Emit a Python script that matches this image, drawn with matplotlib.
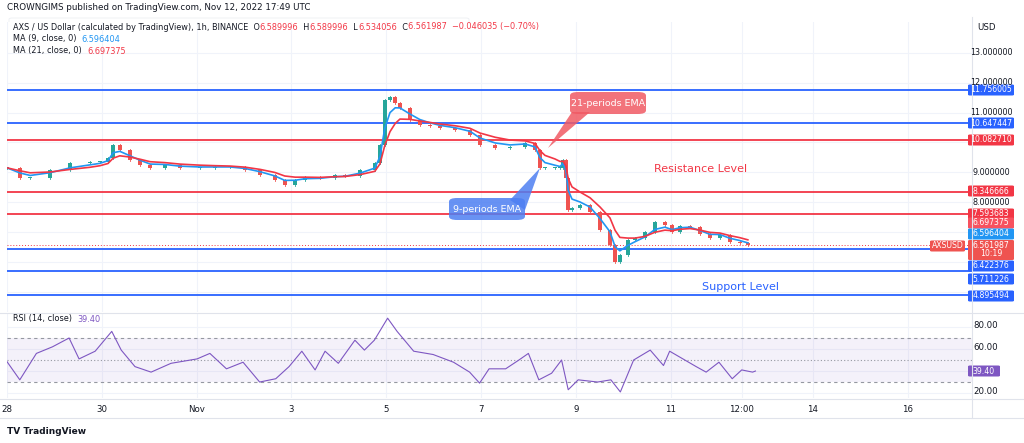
import matplotlib
matplotlib.use("Agg")
import matplotlib.pyplot as plt
import numpy as np
import pandas as pd
from matplotlib.patches import FancyBboxPatch, Polygon

# ---- data (days since Oct 28 00:00) ----
price_days = [0,.27,.49,.91,1.33,1.75,1.96,2.13,2.24,2.38,2.59,2.81,3.02,3.33,3.65,4.07,4.39,4.70,5.02,5.34,5.65,5.86,6.08,6.29,6.60,6.92,7.13,7.45,7.76,7.87,7.97,8.08,8.19,8.29,8.50,8.71,8.92,9.14,9.45,9.77,9.98,10.30,10.61,10.93,11.14,11.24,11.35,11.56,11.67,11.73,11.79,11.84,11.92,12.09,12.30,12.51,12.72,12.83,12.93,13.10,13.25,13.46,13.67,13.88,14.03,14.20,14.41,14.62,14.83,15.04,15.25,15.46,15.63]
price_close = [9.15,8.81,8.81,9.08,9.31,9.35,9.35,9.48,9.92,9.75,9.41,9.25,9.15,9.25,9.15,9.15,9.18,9.18,9.08,8.91,8.74,8.58,8.74,8.84,8.81,8.91,8.88,9.08,9.31,9.92,11.42,11.52,11.32,11.15,10.75,10.58,10.55,10.48,10.42,10.25,9.92,9.82,9.85,9.98,9.75,9.15,9.15,9.15,9.15,9.41,8.81,7.74,7.81,7.91,7.67,7.07,6.57,6.00,6.24,6.74,6.80,7.00,7.34,7.24,7.00,7.21,7.18,6.94,6.80,6.91,6.67,6.64,6.56]
rsi_days = [0.0,0.27,0.62,0.96,1.31,1.52,1.86,2.21,2.41,2.70,3.04,3.46,4.01,4.28,4.63,4.98,5.33,5.67,5.95,6.22,6.50,6.71,6.99,7.34,7.54,7.75,8.03,8.23,8.58,8.99,9.42,9.76,9.97,10.17,10.52,10.80,11.00,11.22,11.49,11.70,11.84,12.05,12.46,12.74,12.94,13.22,13.57,13.85,13.98,14.26,14.54,14.75,15.02,15.30,15.50,15.73,15.79]
rsi_vals = [48.5,32,56,62,70,51,58,76,59,44,39,47,51,56,42,48,30,33,44,58,41,58,47,68,59,68,88,76,58,55,48,39,29,42,42,50,56,32,38,50,23,32,30,32,21,50,59,45,58,51,44,39,48,33,41,39,40]
levels = [11.756005,10.647447,10.082710,8.346666,7.593683,6.422376,5.711226,4.895494]
level_kind = ["s","s","r","r","r","s","s","s"]
last_price = 6.561987
ma9_last, ma21_last = 6.596404, 6.697375
rsi_last = 39.40
date_days = [0,2,4,6,8,10,12,14,15.5,17,19]
date_labels = ["28","30","Nov","3","5","7","9","11","12:00","14","16"]
price_ticks = [13,12,11,9,8]

BLUE = "#2962ff"; RED = "#f23645"; LBLUE = "#2196f3"; ORANGE = "#f7525f"; PURP = "#7e57c2"; INK = "#131722"
W, H = 1024, 443
fig = plt.figure(figsize=(W/100, H/100), dpi=100)
fig.patch.set_facecolor("white")
def fx(x): return x / W
def fy(y): return 1 - y / H
renderer = fig.canvas.get_renderer()

axL, axR = 7, 972
ax = fig.add_axes([fx(axL), fy(312), fx(axR - axL), fy(22) - fy(312)])
ar = fig.add_axes([fx(axL), fy(398), fx(axR - axL), fy(313) - fy(398)], sharex=ax)
xmax = (axR - axL) / 47.4
for a in (ax, ar):
    a.set_xlim(-0.0, xmax)
    for s in a.spines.values(): s.set_visible(False)
    a.tick_params(left=False, bottom=False, labelleft=False, labelbottom=False)
    for d in date_days:
        a.axvline(d, color="#f0f3fa", lw=0.8, zorder=0)
ax.set_ylim(4.326, 14.03)
ar.set_ylim(15.5, 92.7)
for p in [5,6,7,8,9,10,11,12,13]:
    ax.axhline(p, color="#f0f3fa", lw=0.8, zorder=0)
for p in [20,40,60,80]:
    ar.axhline(p, color="#f0f3fa", lw=0.8, zorder=0)

# candles
c = np.array(price_close); d = np.array(price_days)
o = np.r_[c[0], c[:-1]]
for xi, oi, ci in zip(d, o, c):
    col = "#26a69a" if ci >= oi else "#ef5350"
    hi = max(oi, ci) + 0.04; lo = min(oi, ci) - 0.04
    ax.plot([xi, xi], [lo, hi], color=col, lw=0.6, zorder=3)
    ax.bar(xi, max(abs(ci - oi), 0.02), bottom=min(oi, ci), width=0.08, color=col, zorder=3)
s = pd.Series(c)
ax.plot(d, s.ewm(span=3, adjust=False).mean(), color=LBLUE, lw=1.2, zorder=4)
ax.plot(d, s.ewm(span=6, adjust=False).mean(), color=RED, lw=1.2, zorder=4)

for lv, k in zip(levels, level_kind):
    ax.axhline(lv, color=BLUE if k == "s" else RED, lw=1.3, zorder=2)
ax.axhline(last_price, color=RED, lw=0.7, ls=(0, (1, 2)), zorder=2)

# RSI
ar.axhspan(30, 70, color=PURP, alpha=0.08, lw=0)
for v, ls in [(70, (0, (3, 3))), (50, (0, (1, 2))), (30, (0, (3, 3)))]:
    ar.axhline(v, color="#9598a1", lw=0.8, ls=ls)
ar.plot(rsi_days, rsi_vals, color=PURP, lw=0.8)

# separators
fig.add_artist(plt.Line2D([fx(axR), fx(axR)], [fy(17), fy(418)], color="#e0e3eb", lw=0.8))
fig.add_artist(plt.Line2D([fx(0), fx(W)], [fy(312.5), fy(312.5)], color="#e0e3eb", lw=0.8))
fig.add_artist(plt.Line2D([fx(0), fx(W)], [fy(398.5), fy(398.5)], color="#e0e3eb", lw=0.8))
fig.add_artist(plt.Line2D([fx(0), fx(W)], [fy(418), fy(418)], color="#e0e3eb", lw=0.8))

fs = 6.2
for dd, lab in zip(date_days, date_labels):
    px = axL + dd * 47.4
    fig.text(fx(px), fy(409), lab, ha="center", va="center", fontsize=fs, color=INK)

to_py = lambda p: 90 + (11.756005 - p) * 29.88
for p in price_ticks:
    fig.text(fx(991), fy(to_py(p)), f"{p:.6f}", ha="center", va="center", fontsize=5.8, color=INK)
fig.text(fx(986), fy(27), "USD", ha="center", va="center", fontsize=fs, color=INK)

def tag(y, txt, col, h=11, x0=968, w=46, f=5.6):
    fig.add_artist(FancyBboxPatch((fx(x0), fy(y + h/2)), fx(w), fy(0) - fy(h), boxstyle="round,pad=0,rounding_size=0.002",
                                  transform=fig.transFigure, fc=col, ec="none"))
    if txt:
        fig.text(fx(x0 + w/2), fy(y), txt, ha="center", va="center", fontsize=f, color="white")

tag_ys = [90, 123, 140, 191, 214, 223, 234]
tag_vals = [11.756005, 10.647447, 10.082710, 8.346666, 7.593683, ma21_last, ma9_last]
tag_cols = [BLUE, BLUE, RED, RED, RED, ORANGE, LBLUE]
for y, v, cl in zip(tag_ys, tag_vals, tag_cols):
    tag(y, f"{v:.6f}", cl)
tag(250, "", "#ef5350", h=20)
fig.text(fx(991), fy(245), f"{last_price:.6f}", ha="center", va="center", fontsize=5.6, color="white")
fig.text(fx(991), fy(254), "10:19", ha="center", va="center", fontsize=5.6, color="white")
tag(266, f"{levels[5]:.6f}", BLUE)
tag(279, f"{levels[6]:.6f}", BLUE)
tag(296, f"{levels[7]:.6f}", BLUE)
tag(246, "AXSUSD", "#ef5350", x0=930, w=35, f=5.6)
tag(371, f"{rsi_last:.2f}", PURP, x0=968, w=32)
for p in [80, 60, 20]:
    fig.text(fx(986), fy(326 + (80 - p) * 1.1), f"{p:.2f}", ha="center", va="center", fontsize=fs, color=INK)

def chain(x, y, parts, f=fs):
    for txt, col in parts:
        t = fig.text(fx(x), fy(y), txt, fontsize=f, va="center", color=col)
        x += t.get_window_extent(renderer).width
    return x

fig.text(fx(7), fy(8), "CROWNGIMS published on TradingView.com, Nov 12, 2022 17:49 UTC", fontsize=6.3, va="center", color=INK)
fig.add_artist(FancyBboxPatch((fx(9), fy(58)), fx(460), fy(0) - fy(40), boxstyle="round,pad=0,rounding_size=0.003",
                              transform=fig.transFigure, fc="white", ec="#eceff3", lw=0.6, zorder=0))
chain(13, 27, [("AXS / US Dollar (calculated by TradingView), 1h, BINANCE  O", INK), ("6.589996", RED),
               ("  H", INK), ("6.589996", RED), ("  L", INK), ("6.534056", RED), ("  C", INK),
               ("6.561987  \u22120.046035 (\u22120.70%)", RED)], f=5.9)
chain(13, 39, [("MA (9, close, 0)  ", INK), (f"{ma9_last:.6f}", LBLUE)], f=5.9)
chain(13, 51, [("MA (21, close, 0)  ", INK), (f"{ma21_last:.6f}", RED)], f=5.9)
chain(13, 319, [("RSI (14, close)  ", INK), (f"{rsi_last:.2f}", PURP)], f=5.9)
fig.text(fx(7), fy(432), "TV TradingView", fontsize=6.5, va="center", color=INK, fontweight="bold")

def callout(cx, cy, w, h, txt, col, tip, base):
    fig.add_artist(Polygon([(fx(base[0]), fy(base[1])), (fx(base[2]), fy(base[3])), (fx(tip[0]), fy(tip[1]))],
                           closed=True, transform=fig.transFigure, fc=col, ec="none", alpha=0.85))
    fig.add_artist(FancyBboxPatch((fx(cx - w/2), fy(cy + h/2)), fx(w), fy(0) - fy(h),
                                  boxstyle="round,pad=0,rounding_size=0.008", transform=fig.transFigure,
                                  fc=col, ec="none", alpha=0.85))
    fig.text(fx(cx), fy(cy), txt, ha="center", va="center", fontsize=6.8, color="white")
callout(608, 103, 76, 22, "21-periods EMA", "#f05a64", (548, 148), (572, 112, 590, 112))
callout(487, 209, 76, 22, "9-periods EMA", "#4d7ff2", (540, 168), (510, 200, 525, 210))
fig.text(fx(701), fy(169), "Resistance Level", ha="center", va="center", fontsize=8, color=RED)
fig.text(fx(741), fy(287), "Support Level", ha="center", va="center", fontsize=8, color=BLUE)

fig.savefig("out.png", dpi=100)
